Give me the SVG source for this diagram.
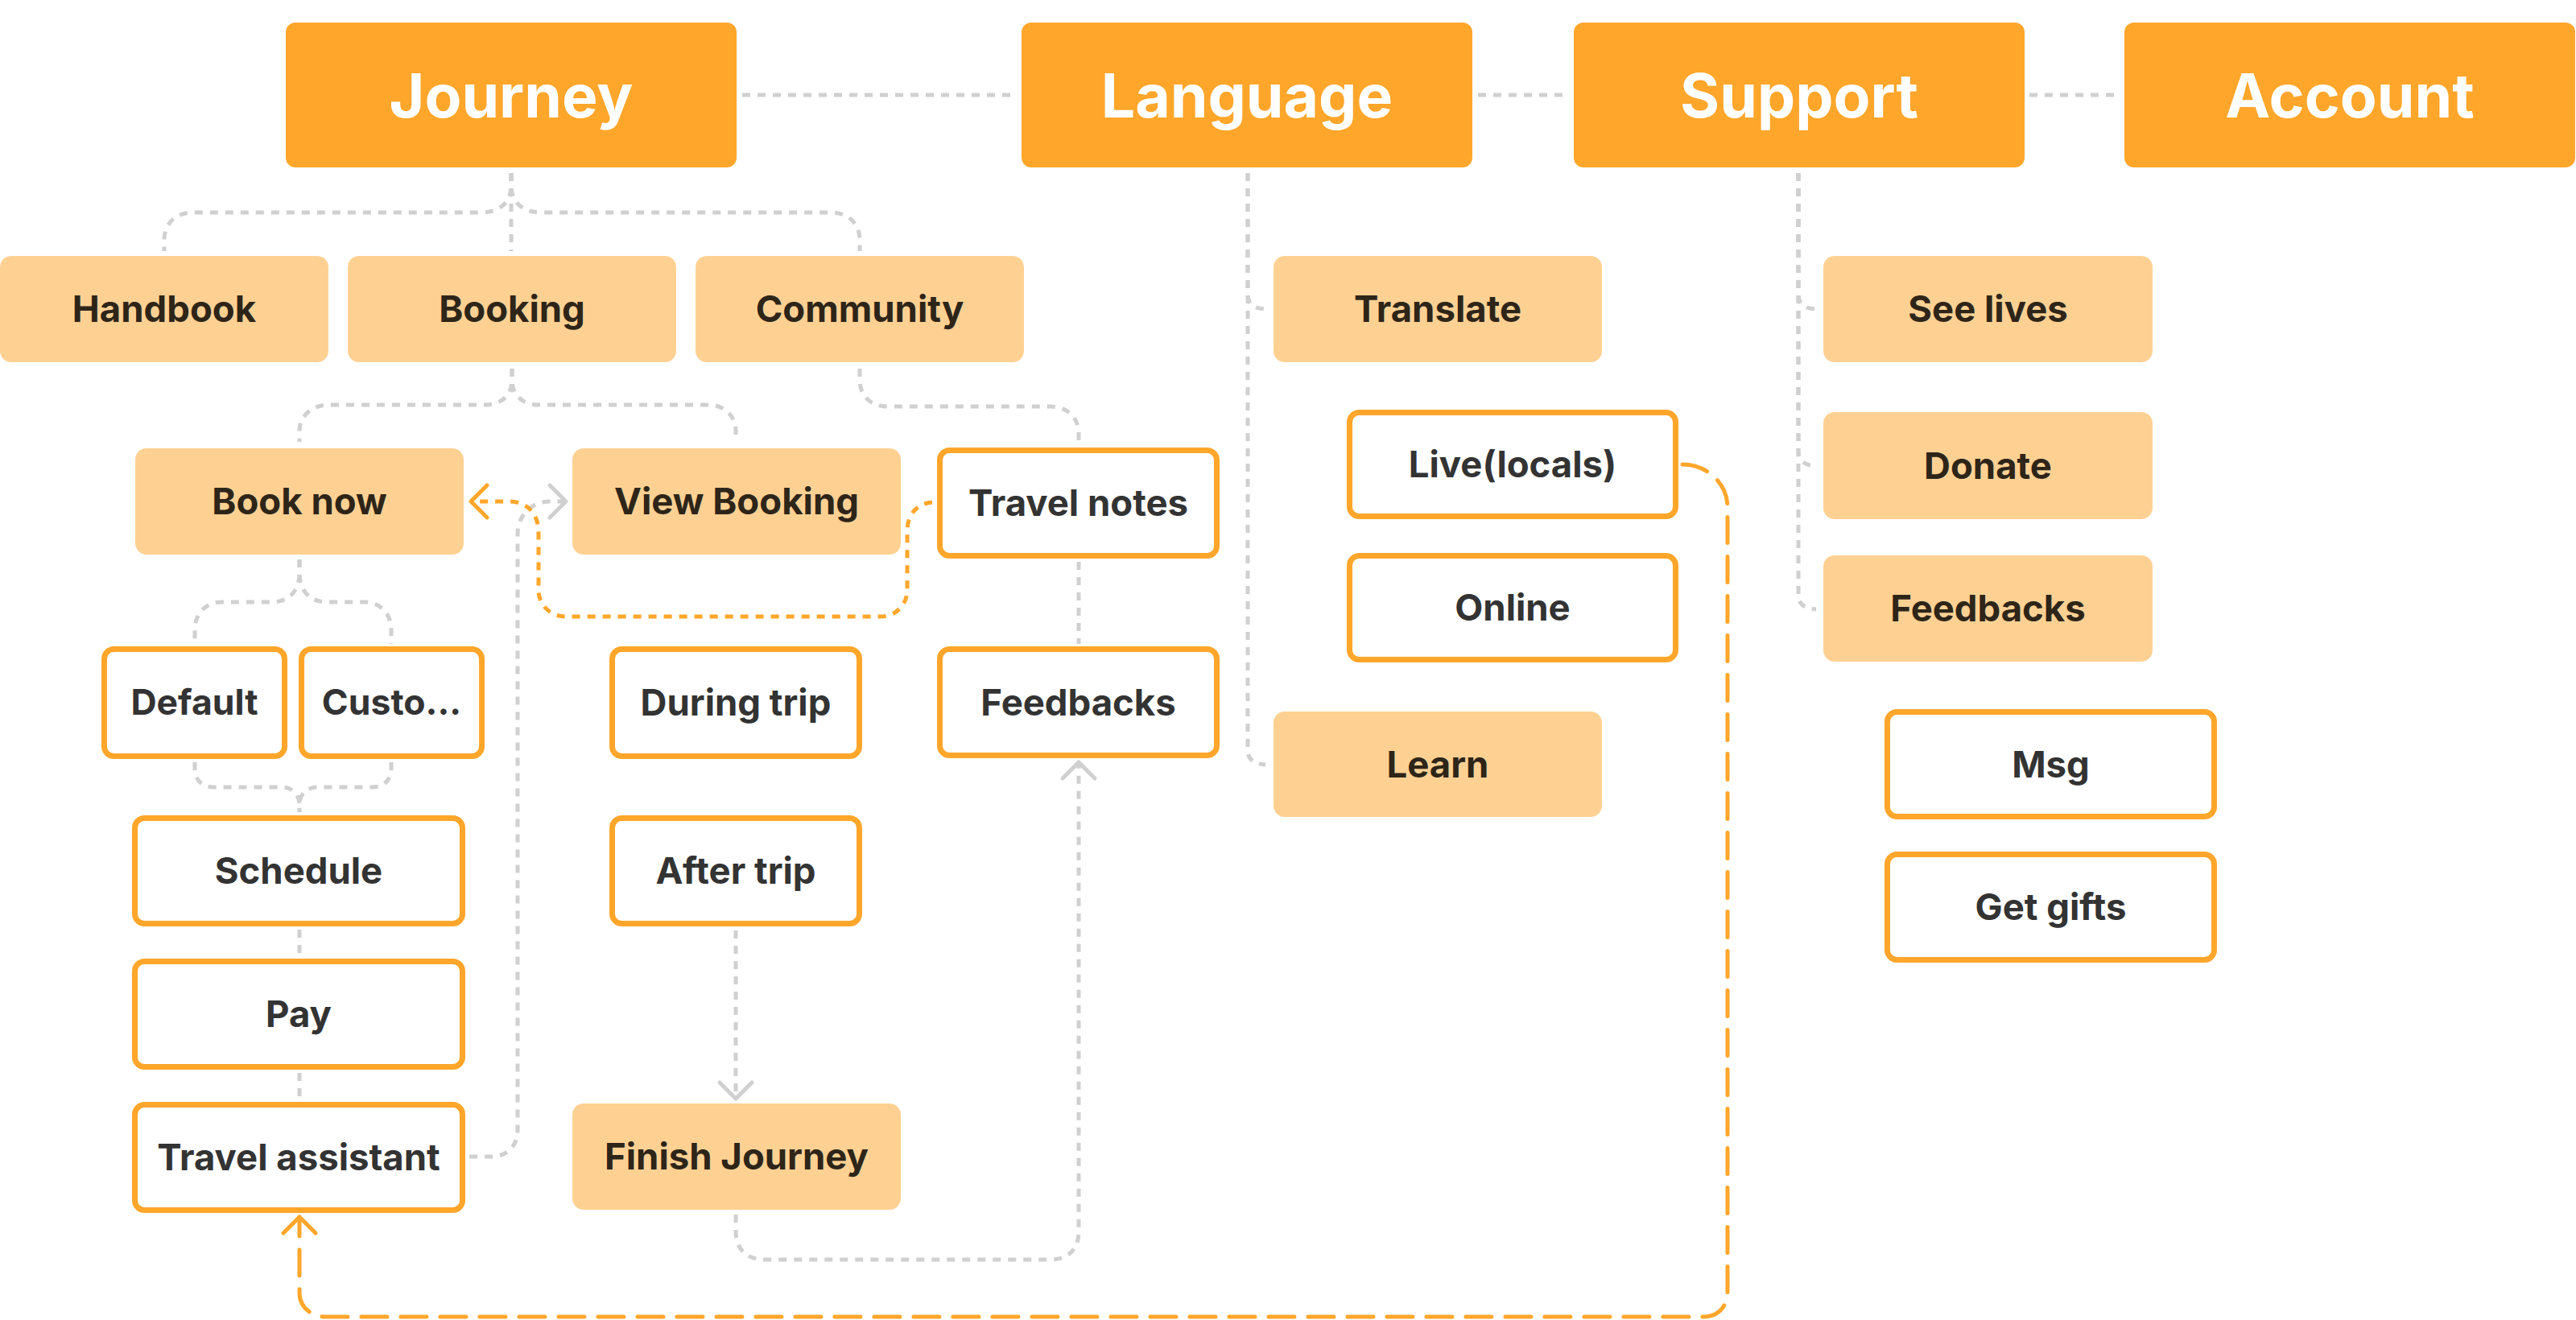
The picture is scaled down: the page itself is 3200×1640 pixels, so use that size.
<svg xmlns="http://www.w3.org/2000/svg" width="3200" height="1640" viewBox="0 0 3200 1640">
  <style>
    .top rect { fill: #FFA62B; }
    .top text { fill: #FFFFFF; font-family: Inter, "Liberation Sans", sans-serif; font-weight: 700; font-size: 75px; text-anchor: middle; }
    .lt rect { fill: #FED193; }
    .lt text { fill: #2E2519; font-family: Inter, "Liberation Sans", sans-serif; font-weight: 700; font-size: 45.5px; text-anchor: middle; }
    .wt rect { fill: #FFFFFF; stroke: #FFA62B; stroke-width: 7; }
    .wt text { fill: #333333; font-family: Inter, "Liberation Sans", sans-serif; font-weight: 700; font-size: 45.5px; text-anchor: middle; }
    .wt text.sm { font-size: 44.5px; }
    .cg { fill: none; stroke: #D0D0D0; stroke-width: 5; stroke-dasharray: 10 9; }
    .co { fill: none; stroke: #FFA62B; stroke-width: 5; stroke-dasharray: 10 9; }
    .col { fill: none; stroke: #FFA62B; stroke-width: 5; stroke-dasharray: 32 17; stroke-linecap: round; }
  </style>
  <defs>
    <marker id="chevG" viewBox="-26 -26 32 52" refX="0" refY="0" markerWidth="32" markerHeight="52" markerUnits="userSpaceOnUse" orient="auto">
      <path d="M-20,-20 L0,0 L-20,20" fill="none" stroke="#D0D0D0" stroke-width="5" stroke-linecap="round" stroke-linejoin="round" stroke-dasharray="none"/>
    </marker>
    <marker id="chevO" viewBox="-26 -26 32 52" refX="0" refY="0" markerWidth="32" markerHeight="52" markerUnits="userSpaceOnUse" orient="auto">
      <path d="M-20,-20 L0,0 L-20,20" fill="none" stroke="#FFA62B" stroke-width="5" stroke-linecap="round" stroke-linejoin="round" stroke-dasharray="none"/>
    </marker>
  </defs>

  <g id="connectors">
    <!-- top row links -->
    <path class="cg" d="M922 118 H1262"/>
    <path class="cg" d="M1836 118 H1948"/>
    <path class="cg" d="M2521 118 H2632"/>
    <!-- Journey children -->
    <path class="cg" d="M635 215 V230 C635 252 620 264 598 264 H240 C218 264 204 278 204 298 V312"/>
    <path class="cg" d="M635 215 V312"/>
    <path class="cg" d="M635 215 V230 C635 252 650 264 672 264 H1032 C1054 264 1068 278 1068 298 V312"/>
    <!-- Booking children -->
    <path class="cg" d="M636 458 V472 C636 492 622 503 602 503 H408 C388 503 372 517 372 535 V549"/>
    <path class="cg" d="M636 458 V472 C636 492 650 503 670 503 H880 C900 503 914 517 914 535 V549"/>
    <!-- Community to Travel notes -->
    <path class="cg" d="M1068 458 V472 C1068 492 1082 505 1102 505 H1304 C1326 505 1340 519 1340 538 V550"/>
    <!-- Book now children -->
    <path class="cg" d="M372 695 V712 C372 735 358 748 338 748 H276 C256 748 242 762 242 782 V800"/>
    <path class="cg" d="M372 695 V712 C372 735 386 748 406 748 H452 C472 748 486 762 486 782 V800"/>
    <!-- Default / Custo to Schedule -->
    <path class="cg" d="M242 947 V955 C242 970 252 978 266 978 H350 C364 978 372 988 372 1000 V1009"/>
    <path class="cg" d="M486 947 V955 C486 970 476 978 462 978 H394 C380 978 372 988 372 1000 V1009"/>
    <!-- Schedule -> Pay -> Travel assistant -->
    <path class="cg" d="M372 1155 V1188"/>
    <path class="cg" d="M372 1333 V1366"/>
    <!-- Travel assistant -> View Booking -->
    <path class="cg" d="M583 1437 H610 C630 1437 643 1424 643 1404 V664 C643 640 660 623 684 623 H703" marker-end="url(#chevG)"/>
    <!-- Travel notes -> Book now -->
    <path class="co" d="M1158 624 C1138 626 1127 640 1127 660 V733 C1127 752 1112 766 1094 766 H703 C684 766 669 752 669 733 V662 C669 638 655 623 632 623 H585" marker-end="url(#chevO)"/>
    <!-- After trip -> Finish Journey -->
    <path class="cg" d="M914 1156 V1365" marker-end="url(#chevG)"/>
    <!-- Finish Journey -> Feedbacks -->
    <path class="cg" d="M914 1509 V1530 C914 1552 928 1565 950 1565 H1305 C1327 1565 1340 1552 1340 1530 V947" marker-end="url(#chevG)"/>
    <!-- Travel notes -> Feedbacks -->
    <path class="cg" d="M1340 698 V800"/>
    <!-- Language children -->
    <path class="cg" d="M1550 215 V366 Q1550 383 1572 384"/>
    <path class="cg" d="M1550 215 V932 Q1550 949 1572 950"/>
    <!-- Support children -->
    <path class="cg" d="M2234 215 V366 Q2234 383 2256 384"/>
    <path class="cg" d="M2234 215 V561 Q2234 578 2256 579"/>
    <path class="cg" d="M2234 215 V739 Q2234 756 2256 757"/>
    <!-- Live(locals) -> Travel assistant -->
    <path class="col" d="M2090 577 C2120 577 2146 600 2146 630 V1606 C2146 1623 2134 1636 2116 1636 H404 C386 1636 372 1623 372 1606 V1512" marker-end="url(#chevO)"/>
  </g>

  <g id="journey" class="top"><rect x="355" y="28" width="560" height="180" rx="12"/><text x="635" y="146">Journey</text></g>
  <g id="language" class="top"><rect x="1269" y="28" width="560" height="180" rx="12"/><text x="1549" y="146">Language</text></g>
  <g id="support" class="top"><rect x="1955" y="28" width="560" height="180" rx="12"/><text x="2235" y="146">Support</text></g>
  <g id="account" class="top"><rect x="2639" y="28" width="560" height="180" rx="12"/><text x="2919" y="146">Account</text></g>

  <g id="handbook" class="lt"><rect x="0" y="318" width="408" height="132" rx="14"/><text x="204" y="400">Handbook</text></g>
  <g id="booking" class="lt"><rect x="432" y="318" width="408" height="132" rx="14"/><text x="636" y="400">Booking</text></g>
  <g id="community" class="lt"><rect x="864" y="318" width="408" height="132" rx="14"/><text x="1068" y="400">Community</text></g>
  <g id="translate" class="lt"><rect x="1582" y="318" width="408" height="132" rx="14"/><text x="1786" y="400">Translate</text></g>
  <g id="see-lives" class="lt"><rect x="2265" y="318" width="409" height="132" rx="14"/><text x="2469.5" y="400">See lives</text></g>

  <g id="book-now" class="lt"><rect x="168" y="557" width="408" height="132" rx="14"/><text x="372" y="639">Book now</text></g>
  <g id="view-booking" class="lt"><rect x="711" y="557" width="408" height="132" rx="14"/><text x="915" y="639">View Booking</text></g>
  <g id="travel-notes" class="wt"><rect x="1167.5" y="559.5" width="344" height="131" rx="12"/><text x="1339.5" y="641">Travel notes</text></g>
  <g id="live-locals" class="wt"><rect x="1676.5" y="512.5" width="405" height="129" rx="12"/><text x="1879" y="593">Live(locals)</text></g>
  <g id="online" class="wt"><rect x="1676.5" y="690.5" width="405" height="129" rx="12"/><text x="1879" y="771">Online</text></g>
  <g id="donate" class="lt"><rect x="2265" y="512" width="409" height="133" rx="14"/><text x="2469.5" y="594.5">Donate</text></g>
  <g id="feedbacks-support" class="lt"><rect x="2265" y="690" width="409" height="132" rx="14"/><text x="2469.5" y="772">Feedbacks</text></g>

  <g id="default" class="wt"><rect x="129.5" y="806.5" width="224" height="133" rx="12"/><text class="sm" x="241.5" y="888">Default</text></g>
  <g id="custom" class="wt"><rect x="374.5" y="806.5" width="224" height="133" rx="12"/><text class="sm" x="486.5" y="888">Custo...</text></g>
  <g id="during-trip" class="wt"><rect x="760.5" y="806.5" width="307" height="133" rx="12"/><text x="914" y="889">During trip</text></g>
  <g id="feedbacks-community" class="wt"><rect x="1167.5" y="806.5" width="344" height="132" rx="12"/><text x="1339.5" y="888.5">Feedbacks</text></g>
  <g id="learn" class="lt"><rect x="1582" y="884" width="408" height="131" rx="14"/><text x="1786" y="965.5">Learn</text></g>
  <g id="msg" class="wt"><rect x="2344.5" y="884.5" width="406" height="130" rx="12"/><text x="2547.5" y="965.5">Msg</text></g>
  <g id="get-gifts" class="wt"><rect x="2344.5" y="1061.5" width="406" height="131" rx="12"/><text x="2547.5" y="1143">Get gifts</text></g>

  <g id="schedule" class="wt"><rect x="167.5" y="1016.5" width="407" height="131" rx="12"/><text x="371" y="1098">Schedule</text></g>
  <g id="after-trip" class="wt"><rect x="760.5" y="1016.5" width="307" height="131" rx="12"/><text x="914" y="1098">After trip</text></g>
  <g id="pay" class="wt"><rect x="167.5" y="1194.5" width="407" height="131" rx="12"/><text x="371" y="1276">Pay</text></g>
  <g id="travel-assistant" class="wt"><rect x="167.5" y="1372.5" width="407" height="131" rx="12"/><text x="371" y="1454">Travel assistant</text></g>
  <g id="finish-journey" class="lt"><rect x="711" y="1371" width="408" height="132" rx="14"/><text x="915" y="1453">Finish Journey</text></g>
</svg>
